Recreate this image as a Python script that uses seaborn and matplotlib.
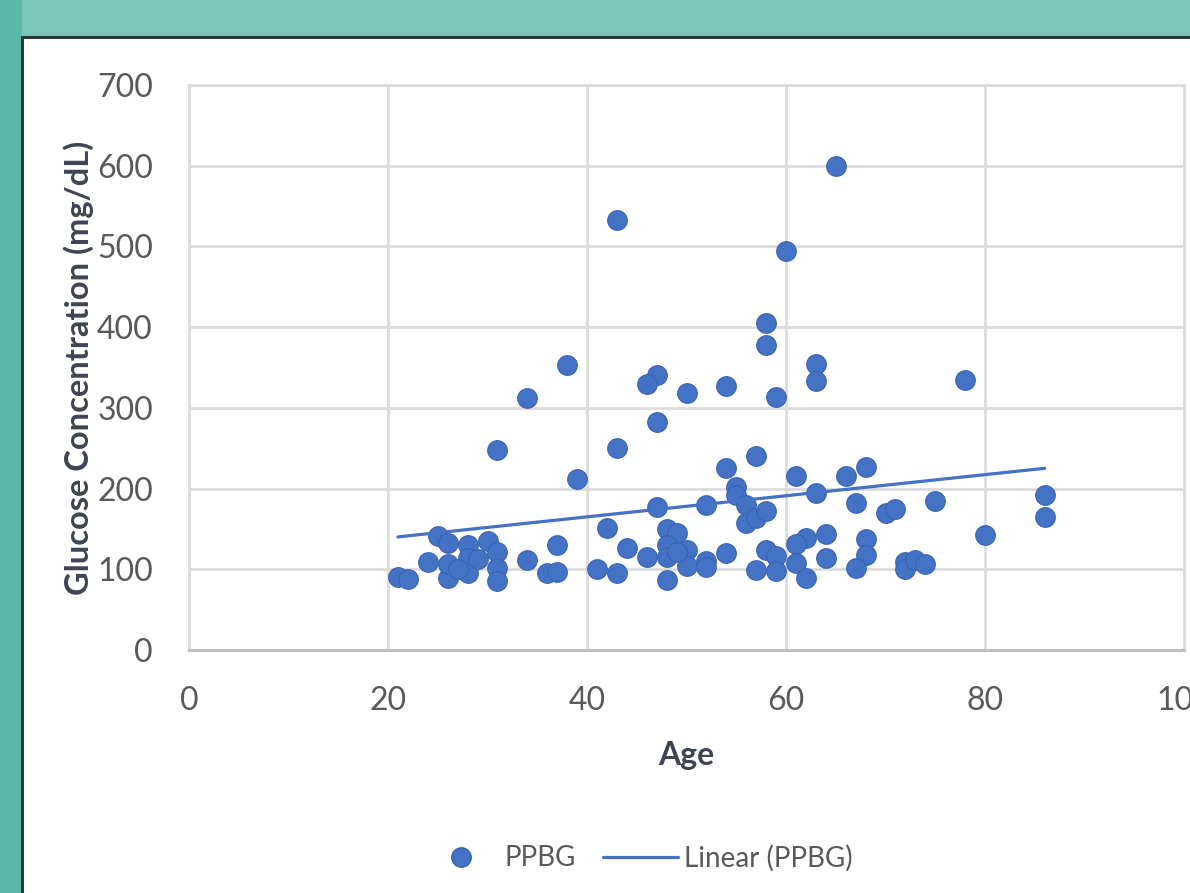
import matplotlib
matplotlib.use("Agg")
import matplotlib.pyplot as plt
from matplotlib.patches import Rectangle
from matplotlib.lines import Line2D
import numpy as np
import pandas as pd
import seaborn as sns

# Age (years) and post-prandial blood glucose (mg/dL)
age = [65, 43, 60, 58, 58, 38, 63, 63, 78, 47, 46, 54, 34, 50, 59, 47, 31, 43, 57, 54,
       39, 61, 66, 68,
       55, 55, 56, 56, 57, 58, 63, 67, 70, 71, 75, 86, 86, 80, 52, 47, 42, 48, 49, 64,
       62, 68, 61,
       21, 22, 25, 26, 24, 26, 26, 28, 28, 28, 29, 30, 31, 31, 31, 34, 37, 36, 37, 44,
       46, 41, 43, 48, 48, 50, 50, 48, 52, 52, 54, 57, 58, 59, 59, 61, 62, 64, 68, 67,
       72, 72, 73, 74, 49, 27]
ppbg = [600, 533, 494, 405, 378, 353, 354, 333, 334, 341, 329, 327, 312, 318, 314, 283,
        248, 250, 240, 226, 212, 216, 216, 227,
        202, 192, 180, 157, 164, 172, 194, 182, 170, 175, 184, 192, 165, 143, 180, 177,
        151, 150, 145, 144, 139, 138, 131,
        90, 88, 141, 132, 109, 89, 106, 130, 114, 95, 113, 135, 122, 101, 85, 111, 130,
        95, 97, 126, 115, 100, 95, 130, 115, 124, 104, 87, 110, 103, 120, 99, 124, 116,
        98, 108, 89, 114, 118, 102, 109, 100, 111, 106, 122, 100]

x_ticks = [0, 20, 40, 60, 80, 100]
y_ticks = [0, 100, 200, 300, 400, 500, 600, 700]

df = pd.DataFrame({"Age": age, "PPBG": ppbg})

sns.set_theme(style="white")
plt.rcParams["font.family"] = ["Lato", "DejaVu Sans"]

BLUE = "#4472C4"
EDGE = "#3963b4"
TICK = "#595959"
LABEL = "#3f4452"

fig = plt.figure(figsize=(11.9, 8.93), dpi=100)
fig.patch.set_facecolor("#7cc3b8")

# darker teal strip along the left edge
fig.add_artist(Rectangle((0, 0), 22 / 1190, 1, transform=fig.transFigure,
                         facecolor="#5cb8a6", edgecolor="none", zorder=0))
# white chart panel with a dark border on top and left
fig.add_artist(Rectangle((22 / 1190, -0.05), 1.1, 1 - 37 / 893 + 0.05,
                         transform=fig.transFigure, facecolor="white",
                         edgecolor="#2b3a36", linewidth=2.2, zorder=1))

ax = fig.add_axes([189 / 1190, 1 - 650 / 893, (1184 - 189) / 1190, (650 - 85) / 893])
ax.set_facecolor("white")
ax.set_zorder(2)

sns.regplot(data=df, x="Age", y="PPBG", ax=ax, scatter=False, ci=None,
            truncate=True, line_kws={"color": BLUE, "lw": 2.3, "zorder": 4})
sns.scatterplot(data=df, x="Age", y="PPBG", ax=ax, s=200, color=BLUE,
                edgecolor=EDGE, linewidth=0.8, zorder=3, legend=False)

ax.set_xlim(0, 100)
ax.set_ylim(0, 700)
ax.set_xticks(x_ticks)
ax.set_yticks(y_ticks)
ax.set_xticklabels([str(t) for t in x_ticks], fontsize=23, color=TICK)
ax.set_yticklabels([str(t) for t in y_ticks], fontsize=23, color=TICK)
ax.tick_params(axis="x", length=0, pad=26)
ax.tick_params(axis="y", length=0, pad=26)

ax.grid(True, color="#dcdcdc", linewidth=2.0)
ax.set_axisbelow(True)
for side in ["top", "right", "left"]:
    ax.spines[side].set_color("#dcdcdc")
    ax.spines[side].set_linewidth(2.0)
ax.spines["bottom"].set_color("#bfbfbf")
ax.spines["bottom"].set_linewidth(2.2)

ax.set_xlabel("Age", fontsize=23, fontweight="bold", color=LABEL, labelpad=18)
ax.set_ylabel("Glucose Concentration (mg/dL)", fontsize=23.5, fontweight="bold",
              color=LABEL, labelpad=2)

handles = [
    Line2D([], [], marker="o", linestyle="none", markersize=14,
           markerfacecolor=BLUE, markeredgecolor=EDGE, label="PPBG"),
    Line2D([], [], color=BLUE, lw=2.3, label="Linear (PPBG)"),
]
fig.legend(handles=handles, loc="center", bbox_to_anchor=(638 / 1190, 1 - 858 / 893),
           ncol=2, frameon=False, fontsize=20, labelcolor=TICK,
           handlelength=2.7, columnspacing=1.0, handletextpad=0.2)

fig.savefig("out.png", dpi=100, facecolor=fig.get_facecolor())
